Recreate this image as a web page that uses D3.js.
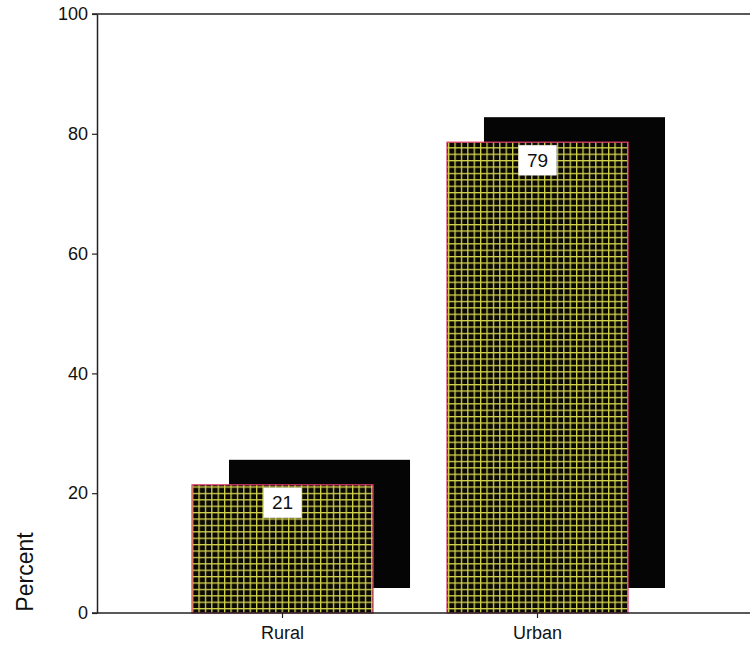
<!DOCTYPE html>
<html>
<head>
<meta charset="utf-8">
<script src="https://cdn.jsdelivr.net/npm/d3@7"></script>
<style>
  html, body { margin: 0; padding: 0; background: #fff; }
  svg { display: block; font-family: "Liberation Sans", Arial, sans-serif; }
</style>
</head>
<body>
<svg id="chart" width="750" height="647"></svg>
<script>
const categories = ["Rural", "Urban"];
const percents = [21.4, 78.6];
const yTicks = [0, 20, 40, 60, 80, 100];

const W = 750, H = 647;
const svg = d3.select("#chart");

const x = d3.scaleBand().domain(categories).range([97, 723]).paddingInner(0.29).paddingOuter(0.3725);
const y = d3.scaleLinear().domain([0, 100]).range([613, 14]);

// pattern
const defs = svg.append("defs");
const sp = 6.4;
const pat = defs.append("pattern").attr("id", "grid").attr("patternUnits", "userSpaceOnUse")
  .attr("width", sp).attr("height", sp).attr("x", 0).attr("y", 0);
pat.append("rect").attr("width", sp).attr("height", sp).attr("fill", "#0a0802");
pat.append("rect").attr("x", 0).attr("y", 0).attr("width", 1.3).attr("height", sp).attr("fill", "#d4d44e");
pat.append("rect").attr("x", 0).attr("y", 0).attr("width", sp).attr("height", 1.3).attr("fill", "#d4d44e");

const dx = 37, dy = 25;
const data = categories.map((c, i) => ({ c, v: percents[i] }));

// shadows
svg.append("g").selectAll("rect").data(data).join("rect")
  .attr("x", d => x(d.c) + dx)
  .attr("y", d => y(d.v) - dy)
  .attr("width", x.bandwidth())
  .attr("height", d => y(0) - y(d.v))
  .attr("fill", "#050505");

// bars
svg.append("g").selectAll("rect").data(data).join("rect")
  .attr("x", d => x(d.c))
  .attr("y", d => y(d.v))
  .attr("width", x.bandwidth())
  .attr("height", d => y(0) - y(d.v))
  .attr("fill", "url(#grid)")
  .attr("stroke", "#e03a6e")
  .attr("stroke-width", 1.2);

// value labels
const lab = svg.append("g").selectAll("g").data(data).join("g")
  .attr("transform", d => `translate(${x(d.c) + x.bandwidth() / 2},${y(d.v) + 3})`);
lab.append("rect").attr("x", -19).attr("y", 0).attr("width", 38).attr("height", 30)
  .attr("fill", "#fff").attr("stroke", "#ddd").attr("stroke-width", 0.5);
lab.append("text").attr("x", 0).attr("y", 15).attr("dy", "0.35em")
  .attr("text-anchor", "middle").attr("font-size", 19).attr("fill", "#111")
  .text(d => d3.format(".0f")(d.v));

// top border
svg.append("line").attr("x1", 92).attr("x2", W).attr("y1", y(100)).attr("y2", y(100))
  .attr("stroke", "#222").attr("stroke-width", 1.5);

// y axis
const yAxis = svg.append("g").attr("transform", "translate(97,0)")
  .call(d3.axisLeft(y).tickValues(yTicks).tickSize(5).tickPadding(4).tickSizeOuter(0));
yAxis.select(".domain").attr("stroke", "#222").attr("stroke-width", 1.5);
yAxis.selectAll(".tick line").attr("stroke", "#222").attr("stroke-width", 1.2);
yAxis.selectAll(".tick text").attr("font-size", 18).attr("fill", "#111")
  .attr("font-family", "Liberation Sans, Arial, sans-serif");

// x axis
const xAxis = svg.append("g").attr("transform", `translate(0,${y(0)})`)
  .call(d3.axisBottom(x).tickSize(5).tickPadding(8).tickSizeOuter(0));
xAxis.select(".domain").remove();
xAxis.selectAll(".tick line").attr("stroke", "#222").attr("stroke-width", 1.2);
xAxis.selectAll(".tick text").attr("font-size", 18).attr("fill", "#111")
  .attr("font-family", "Liberation Sans, Arial, sans-serif");
svg.append("line").attr("x1", 92).attr("x2", W).attr("y1", y(0)).attr("y2", y(0))
  .attr("stroke", "#222").attr("stroke-width", 1.5);

// y title
svg.append("text").attr("transform", `translate(25,572) rotate(-90)`)
  .attr("text-anchor", "middle").attr("dy", "0.35em").attr("font-size", 23).attr("fill", "#111")
  .text("Percent");
</script>
</body>
</html>
